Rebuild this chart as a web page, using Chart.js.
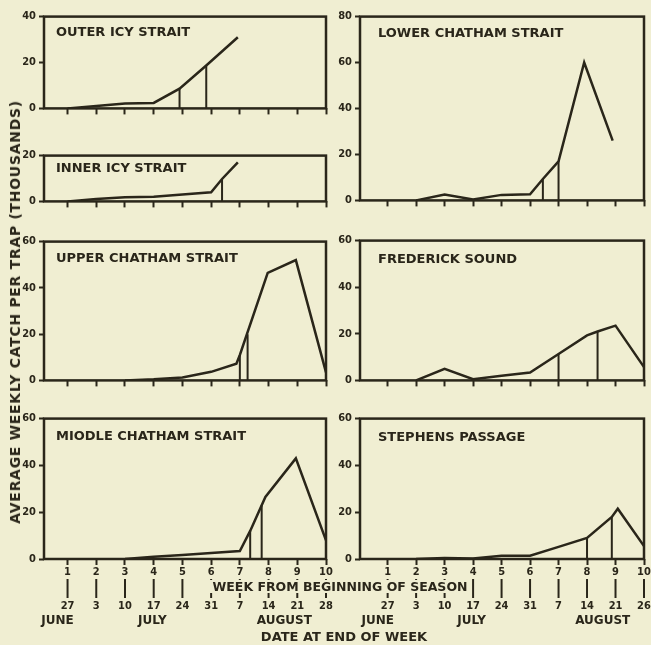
<!DOCTYPE html>
<html>
<head>
<meta charset="utf-8">
<script src="https://cdn.jsdelivr.net/npm/chart.js@4.4.0/dist/chart.umd.min.js"></script>
<style>
  html, body { margin: 0; padding: 0; background: #f0eed2; overflow: hidden; }
  body { width: 651px; height: 645px; position: relative; font-family: "DejaVu Sans", sans-serif; color: #2a261a; }
  canvas { position: absolute; }
  .ytitle {
    position: absolute; left: 15px; top: 312px; z-index: 2;
    transform: translate(-50%, -50%) rotate(-90deg);
    white-space: nowrap; font-weight: bold; font-size: 14px; letter-spacing: 0.7px;
  }
  .weektitle {
    position: absolute; left: 340px; top: 580px; z-index: 2;
    transform: translateX(-50%); white-space: nowrap;
    font-weight: bold; font-size: 12.5px; line-height: 13px;
    background: #f0eed2; padding: 0 3px;
  }
  .datetitle {
    position: absolute; left: 344px; top: 630px; z-index: 2;
    transform: translateX(-50%); white-space: nowrap;
    font-weight: bold; font-size: 13px; line-height: 14px;
  }
</style>
</head>
<body>
<canvas id="outer"></canvas>
<canvas id="inner"></canvas>
<canvas id="upper"></canvas>
<canvas id="middle"></canvas>
<canvas id="lower"></canvas>
<canvas id="fred"></canvas>
<canvas id="steph"></canvas>
<div class="ytitle">AVERAGE WEEKLY CATCH PER TRAP (THOUSANDS)</div>
<div class="weektitle">WEEK FROM BEGINNING OF SEASON</div>
<div class="datetitle">DATE AT END OF WEEK</div>
<script>
// x axis: week of season, with the date at end of week under it
const weekTicks = [1, 2, 3, 4, 5, 6, 7, 8, 9, 10];
const leftDates = ["27", "3", "10", "17", "24", "31", "7", "14", "21", "28"];
const rightDates = ["27", "3", "10", "17", "24", "31", "7", "14", "21", "26"];
const monthNames = ["JUNE", "JULY", "AUGUST"];
const monthWeeks = [0.65, 3.95, 8.55];

// Outer Icy Strait
const outerWeeks = [1, 2, 3, 4, 4.9, 5.83, 6.93];
const outerCatch = [0, 1, 2.1, 2.4, 8.6, 18.7, 31];
const outerMarkWeeks = [4.9, 5.83];
const outerMarkCatch = [8.6, 18.7];

// Inner Icy Strait
const innerWeeks = [1, 2, 3, 4, 5, 6, 6.38, 6.93];
const innerCatch = [0, 1, 1.8, 2, 3, 4, 9.8, 17];
const innerMarkWeeks = [6.38];
const innerMarkCatch = [9.8];

// Upper Chatham Strait
const upperWeeks = [3, 4, 5, 6, 6.88, 7.0, 7.97, 8.95, 10];
const upperCatch = [0, 0.5, 1.3, 3.7, 7.2, 11, 46.5, 52, 3.5];
const upperMarkWeeks = [7.0, 7.27];
const upperMarkCatch = [11, 20];

// Middle Chatham Strait
const middleWeeks = [3, 4, 5, 6, 7, 7.36, 7.89, 8.95, 10];
const middleCatch = [0, 1, 1.7, 2.6, 3.4, 12, 26.5, 43, 8];
const middleMarkWeeks = [7.36, 7.76];
const middleMarkCatch = [12, 23];

// Lower Chatham Strait
const lowerWeeks = [2, 3, 4, 5, 6, 6.45, 7, 7.9, 8.9];
const lowerCatch = [0, 2.6, 0.4, 2.4, 2.7, 9.3, 17, 60, 26];
const lowerMarkWeeks = [6.45, 7];
const lowerMarkCatch = [9.3, 17];

// Frederick Sound
const fredWeeks = [2, 3, 4, 5, 6, 7, 8, 8.37, 9, 10];
const fredCatch = [0, 5, 0.5, 2, 3.4, 11.3, 19.3, 21, 23.5, 5.7];
const fredMarkWeeks = [7, 8.37];
const fredMarkCatch = [11.3, 21];

// Stephens Passage
const stephWeeks = [2, 3, 4, 5, 6, 7, 8, 8.87, 9.08, 10];
const stephCatch = [0, 0.4, 0.2, 1.4, 1.4, 5.2, 9, 18, 21.5, 5.5];
const stephMarkWeeks = [8, 8.87];
const stephMarkCatch = [9, 18];

const ink = "#2a261a";
const numFont = { family: "'DejaVu Sans Condensed', 'DejaVu Sans', sans-serif", size: 11, weight: "bold" };

// panel placement (plot area in page pixels)
const panels = [
  { id: "outer", title: "OUTER ICY STRAIT", weeks: outerWeeks, values: outerCatch, markWeeks: outerMarkWeeks, markValues: outerMarkCatch, yMax: 40, col: 0, top: 15, bottom: 110, titleDy: 16 },
  { id: "inner", title: "INNER ICY STRAIT", weeks: innerWeeks, values: innerCatch, markWeeks: innerMarkWeeks, markValues: innerMarkCatch, yMax: 20, col: 0, top: 154, bottom: 203, titleDy: 13 },
  { id: "upper", title: "UPPER CHATHAM STRAIT", weeks: upperWeeks, values: upperCatch, markWeeks: upperMarkWeeks, markValues: upperMarkCatch, yMax: 60, col: 0, top: 240, bottom: 382, titleDy: 17 },
  { id: "middle", title: "MIODLE CHATHAM STRAIT", weeks: middleWeeks, values: middleCatch, markWeeks: middleMarkWeeks, markValues: middleMarkCatch, yMax: 60, col: 0, top: 417, bottom: 559, titleDy: 18, dates: leftDates },
  { id: "lower", title: "LOWER CHATHAM STRAIT", weeks: lowerWeeks, values: lowerCatch, markWeeks: lowerMarkWeeks, markValues: lowerMarkCatch, yMax: 80, col: 1, top: 15, bottom: 202, titleDy: 17 },
  { id: "fred", title: "FREDERICK SOUND", weeks: fredWeeks, values: fredCatch, markWeeks: fredMarkWeeks, markValues: fredMarkCatch, yMax: 60, col: 1, top: 239, bottom: 382, titleDy: 19 },
  { id: "steph", title: "STEPHENS PASSAGE", weeks: stephWeeks, values: stephCatch, markWeeks: stephMarkWeeks, markValues: stephMarkCatch, yMax: 60, col: 1, top: 417, bottom: 559, titleDy: 19, dates: rightDates },
];

const cols = [
  { left: 44, right: 326, xMin: 0.18, titleDx: 12 },
  { left: 360, right: 644, xMin: 0.03, titleDx: 18 },
];

const yAxisW = 30;
const padTop = 8;
const padRight = 12;

// frame around the plot area plus the panel name
const framePlugin = {
  id: "frame",
  afterDraw(chart, args, opts) {
    const { ctx, chartArea: a } = chart;
    ctx.save();
    ctx.strokeStyle = ink;
    ctx.lineWidth = 2.5;
    ctx.strokeRect(a.left, a.top, a.right - a.left, a.bottom - a.top);
    ctx.fillStyle = ink;
    ctx.font = "bold 13px 'DejaVu Sans'";
    ctx.textBaseline = "middle";
    ctx.fillText(opts.text, a.left + opts.dx, a.top + opts.dy);
    ctx.restore();
  },
};

// date at end of week, under the bottom panels
const datePlugin = {
  id: "dates",
  afterDraw(chart, args, opts) {
    if (!opts.dates) return;
    const { ctx, chartArea: a } = chart;
    const xs = chart.scales.x;
    ctx.save();
    ctx.strokeStyle = ink;
    ctx.fillStyle = ink;
    ctx.lineWidth = 2;
    ctx.textAlign = "center";
    ctx.textBaseline = "middle";
    ctx.font = "bold 11px 'DejaVu Sans Condensed', 'DejaVu Sans'";
    weekTicks.forEach((w, i) => {
      let x = xs.getPixelForValue(w);
      ctx.beginPath();
      ctx.moveTo(x, a.bottom + 20);
      ctx.lineTo(x, a.bottom + 39);
      ctx.stroke();
      ctx.fillText(opts.dates[i], x, a.bottom + 47);
    });
    ctx.font = "bold 12px 'DejaVu Sans'";
    monthNames.forEach((m, i) => {
      ctx.fillText(m, xs.getPixelForValue(monthWeeks[i]), a.bottom + 62);
    });
    ctx.restore();
  },
};

panels.forEach((p) => {
  let c = cols[p.col];
  let canvas = document.getElementById(p.id);
  let axisH = p.dates ? 645 - p.bottom : 8;
  let w = yAxisW + (c.right - c.left) + padRight;
  let h = padTop + (p.bottom - p.top) + axisH;
  canvas.width = w;
  canvas.height = h;
  canvas.style.width = w + "px";
  canvas.style.height = h + "px";
  canvas.style.left = c.left - yAxisW + "px";
  canvas.style.top = p.top - padTop + "px";

  let datasets = [
    {
      data: p.weeks.map((wk, i) => ({ x: wk, y: p.values[i] })),
      borderColor: ink,
      borderWidth: 2.5,
      pointRadius: 0,
      tension: 0,
    },
  ];
  p.markWeeks.forEach((wk, i) => {
    datasets.push({
      data: [{ x: wk, y: 0 }, { x: wk, y: p.markValues[i] }],
      borderColor: ink,
      borderWidth: 2,
      pointRadius: 0,
    });
  });

  new Chart(canvas, {
    type: "line",
    data: { datasets: datasets },
    options: {
      responsive: false,
      devicePixelRatio: 1,
      animation: false,
      layout: { padding: { top: padTop, right: padRight, left: 0, bottom: 0 } },
      plugins: {
        legend: { display: false },
        tooltip: { enabled: false },
        frame: { text: p.title, dx: c.titleDx, dy: p.titleDy },
        dates: { dates: p.dates },
      },
      scales: {
        x: {
          type: "linear",
          min: c.xMin,
          max: 10,
          afterBuildTicks: (s) => {
            s.ticks = weekTicks.map((v) => ({ value: v }));
          },
          ticks: {
            display: !!p.dates,
            color: ink,
            font: numFont,
            padding: 1,
            maxRotation: 0,
            autoSkip: false,
            callback: (v) => String(v),
          },
          grid: { drawOnChartArea: false, tickLength: 6, tickWidth: 2, tickColor: ink },
          border: { display: false },
          afterFit: (s) => {
            s.height = axisH;
          },
        },
        y: {
          min: 0,
          max: p.yMax,
          ticks: { stepSize: 20, color: ink, font: numFont, padding: 3 },
          grid: { drawOnChartArea: false, tickLength: 5, tickWidth: 2, tickColor: ink },
          border: { display: false },
          afterFit: (s) => {
            s.width = yAxisW;
          },
        },
      },
    },
    plugins: [framePlugin, datePlugin],
  });
});
</script>
</body>
</html>
